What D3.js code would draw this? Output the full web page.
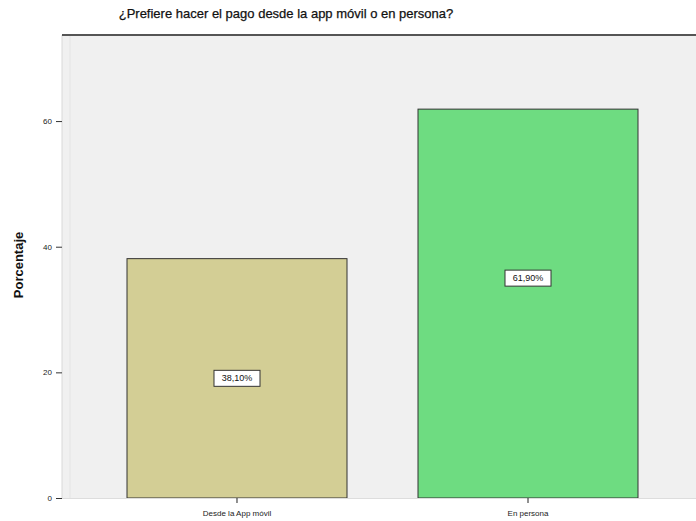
<!DOCTYPE html>
<html><head><meta charset="utf-8">
<script src="https://cdn.jsdelivr.net/npm/d3@7"></script>
<style>body{margin:0;background:#fff}svg{display:block}text{font-family:"Liberation Sans",Arial,sans-serif}</style>
</head><body>
<svg id="c" width="696" height="521"></svg>
<script>
const title = "¿Prefiere hacer el pago desde la app móvil o en persona?";
const yLabel = "Porcentaje";
const categories = ["Desde la App móvil", "En persona"];
const values = [38.10, 61.90];
const valueLabels = ["38,10%", "61,90%"];
const labelAt = [19.05, 35.0];
const colors = ["#d3ce95", "#6edc81"];
const yTicks = [0, 20, 40, 60];

const svg = d3.select("#c");
const plotL = 62, plotR = 696, plotT = 35, plotB = 498;
const y = d3.scaleLinear().domain([0, 73.7]).range([plotB, plotT]);
const x = d3.scaleBand().domain(categories).range([127, 638]).paddingInner(0.244).paddingOuter(0);

svg.append("rect").attr("x", plotL).attr("y", plotT).attr("width", plotR - plotL).attr("height", plotB - plotT).attr("fill", "#f0f0f0");
svg.append("line").attr("x1", plotL + 8).attr("x2", plotL + 8).attr("y1", plotT).attr("y2", plotB).attr("stroke", "#e4e4e4");
svg.append("line").attr("x1", plotL).attr("x2", plotL).attr("y1", plotT).attr("y2", plotB).attr("stroke", "#d8d8d8");
svg.append("line").attr("x1", plotL).attr("x2", plotR).attr("y1", plotT).attr("y2", plotT).attr("stroke", "#555").attr("stroke-width", 2);

svg.append("text").attr("x", 286).attr("y", 18).attr("text-anchor", "middle").attr("font-size", 13)
  .attr("fill", "#111").attr("stroke", "#111").attr("stroke-width", 0.25).text(title);

// y axis
const ya = svg.append("g").attr("transform", `translate(${plotL},0)`)
  .call(d3.axisLeft(y).tickValues(yTicks).tickSize(6).tickPadding(4).tickFormat(d3.format("d")));
ya.select(".domain").remove();
ya.selectAll("text").attr("font-size", 8).attr("fill", "#222").attr("font-family", "Liberation Sans, Arial, sans-serif");
ya.selectAll("line").attr("stroke", "#333");

svg.append("text").attr("transform", `translate(23,265) rotate(-90)`)
  .attr("text-anchor", "middle").attr("font-size", 13).attr("font-weight", "bold").attr("fill", "#111").text(yLabel);

// bars
svg.selectAll("rect.bar").data(categories).enter().append("rect").attr("class", "bar")
  .attr("x", d => x(d)).attr("width", x.bandwidth())
  .attr("y", (d, i) => y(values[i])).attr("height", (d, i) => plotB - y(values[i]))
  .attr("fill", (d, i) => colors[i]).attr("stroke", "#333").attr("stroke-width", 1);

// baseline
svg.append("line").attr("x1", plotL).attr("x2", plotR).attr("y1", plotB + 0.5).attr("y2", plotB + 0.5).attr("stroke", "#ddd");

// x axis
const xa = svg.append("g").attr("transform", `translate(0,${plotB})`)
  .call(d3.axisBottom(x).tickSize(5).tickPadding(7));
xa.select(".domain").remove();
xa.selectAll("line").attr("stroke", "#222");
xa.selectAll("text").attr("font-size", 8).attr("fill", "#222").attr("font-family", "Liberation Sans, Arial, sans-serif");

// value labels
const lg = svg.selectAll("g.lbl").data(categories).enter().append("g").attr("class", "lbl")
  .attr("transform", (d, i) => `translate(${x(d) + x.bandwidth() / 2},${y(labelAt[i])})`);
lg.append("rect").attr("x", -23).attr("y", -8).attr("width", 46).attr("height", 16).attr("fill", "#fff").attr("stroke", "#333");
lg.append("text").attr("text-anchor", "middle").attr("dy", "0.35em").attr("font-size", 9).attr("fill", "#111").text((d, i) => valueLabels[i]);
</script>
</body></html>
